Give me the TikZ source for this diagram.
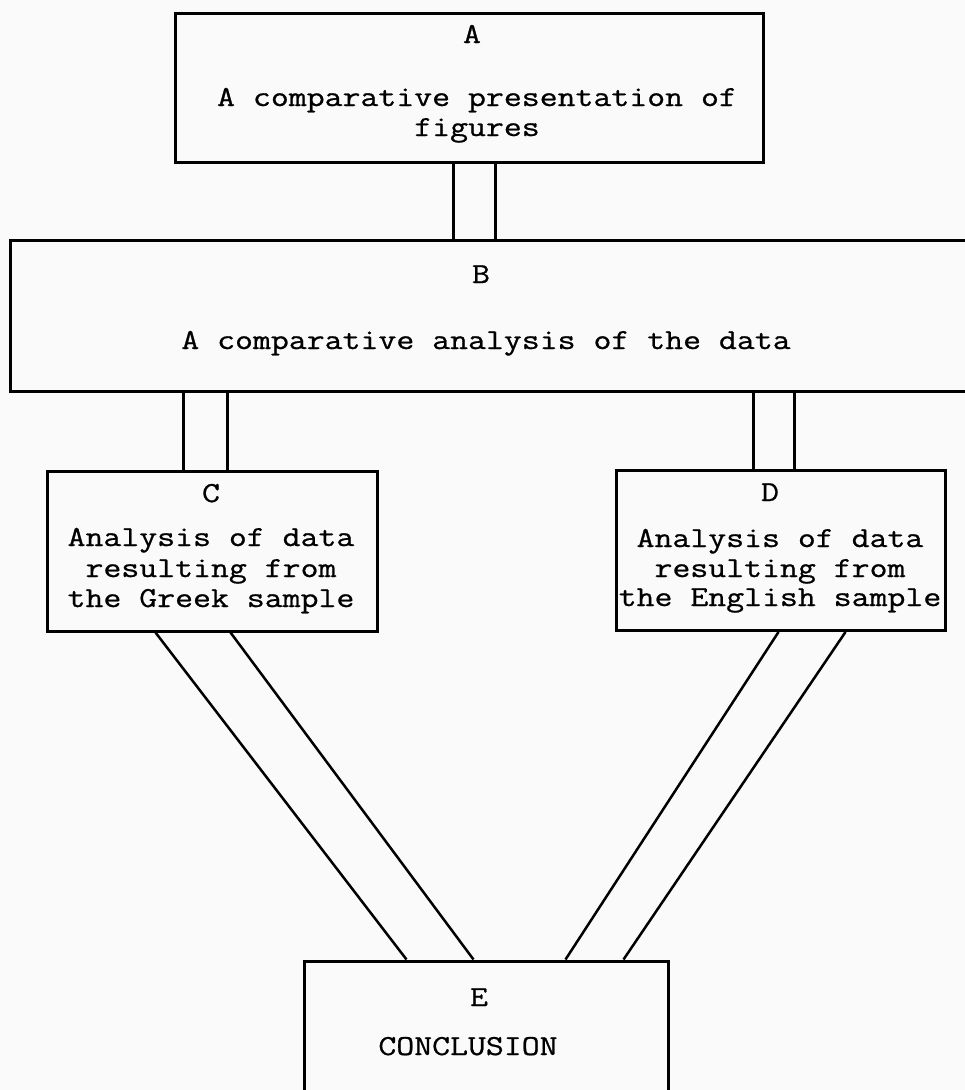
\documentclass[tikz,border=0pt]{standalone}
\usepackage{fontspec}
\newfontfamily\tw{Latin Modern Mono}[FakeStretch=1.2, FakeBold=0.8]
\usetikzlibrary{calc}
\begin{document}
\begin{tikzpicture}[x=1pt,y=1pt,
  box/.style={draw=black, line width=3pt, rectangle, inner sep=0pt, fill=none},
  conn/.style={draw=black, line width=2.5pt},
  txt/.style={anchor=base, inner sep=0pt, font=\tw\fontsize{29}{29}\selectfont, text=black}]
\useasboundingbox (0,0) rectangle (965,-1090);
\fill[black!2] (0,0) rectangle (965,-1090);
\clip (0,0) rectangle (965,-1090);

% boxes
\node[box, minimum width=588pt, minimum height=149pt] (A) at (469,-87.5) {};
\node[box, minimum width=1000pt, minimum height=151pt] (B) at (510,-315.5) {};
\node[box, minimum width=330pt, minimum height=160pt] (C) at (212,-551) {};
\node[box, minimum width=329pt, minimum height=160pt] (D) at (780.5,-550.5) {};
\node[box, minimum width=364pt, minimum height=140pt] (E) at (486,-1031) {};

% texts
\node[txt] (Alab) at (472,-43) {A};
\node[txt] (At1) at (477,-106) {A comparative presentation of};
\node[txt] (At2) at (477,-136) {figures};

\node[txt] (Blab) at (481,-283) {B};
\node[txt] (Bt1) at (486,-349) {A comparative analysis of the data};

\node[txt] (Clab) at (211,-502) {C};
\node[txt] (Ct1) at (211,-546) {Analysis of data};
\node[txt] (Ct2) at (211,-577) {resulting from};
\node[txt] (Ct3) at (211,-607) {the Greek sample};

\node[txt] (Dlab) at (770,-501) {D};
\node[txt] (Dt1) at (780,-547) {Analysis of data};
\node[txt] (Dt2) at (780,-577) {resulting from};
\node[txt] (Dt3) at (780,-606) {the English sample};

\node[txt] (Elab) at (479,-1006) {E};
\node[txt] (Et1) at (468,-1055) {CONCLUSION};

% connectors A-B
\draw[conn] ($(A.south west)+(280,0)$) -- ($(B.north west)+(445,0)$);
\draw[conn] ($(A.south west)+(322,0)$) -- ($(B.north west)+(487,0)$);
% connectors B-C
\draw[conn] ($(B.south west)+(175,0)$) -- ($(C.north west)+(138,0)$);
\draw[conn] ($(B.south west)+(219,0)$) -- ($(C.north west)+(182,0)$);
% connectors B-D
\draw[conn] ($(B.south west)+(745,0)$) -- ($(D.north west)+(139,0)$);
\draw[conn] ($(B.south west)+(786,0)$) -- ($(D.north west)+(180,0)$);
% connectors C-E
\draw[conn] ($(C.south west)+(110,0)$) -- ($(E.north west)+(104,0)$);
\draw[conn] ($(C.south west)+(185,0)$) -- ($(E.north west)+(171,0)$);
% connectors D-E
\draw[conn] ($(D.south west)+(164,0)$) -- ($(E.north west)+(263,0)$);
\draw[conn] ($(D.south west)+(231,0)$) -- ($(E.north west)+(321,0)$);
\end{tikzpicture}
\end{document}
